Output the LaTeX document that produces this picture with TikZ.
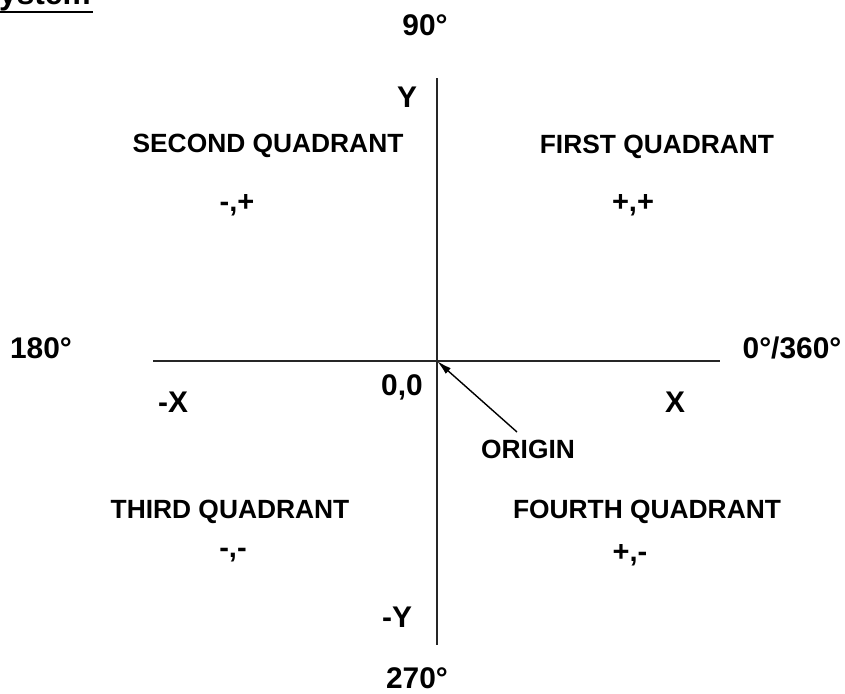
\documentclass[tikz,border=0pt]{standalone}
\usepackage{fontspec}
\setmainfont{Liberation Sans}
\usetikzlibrary{arrows.meta}

\begin{document}
\begin{tikzpicture}[
  x=0.02cm, y=-0.02cm,
  lbl/.style={font=\fontsize{15}{18}\selectfont\bfseries, inner sep=0pt},
  sgn/.style={font=\fontsize{16.5}{19}\selectfont\bfseries, inner sep=0pt},
  axlbl/.style={font=\fontsize{17}{20}\selectfont\bfseries, inner sep=0pt},
  deg/.style={font=\fontsize{17}{20}\selectfont\bfseries, inner sep=0pt},
  axis/.style={line width=0.6pt, black!85},
  pointer/.style={-{Latex[length=3mm, width=1.5mm]}, line width=0.8pt},
]
  \useasboundingbox (0,0) rectangle (845,693);

  % --- origin and axis ends ---
  \def\Ox{437} \def\Oy{361}
  \coordinate (o) at (\Ox,\Oy);
  \coordinate (ytop) at (\Ox,78);
  \coordinate (ybot) at (\Ox,645);
  \coordinate (xleft) at (153,\Oy);
  \coordinate (xright) at (720,\Oy);

  % --- title (cut off at the edge) ---
  \node[font=\fontsize{18}{21}\selectfont\bfseries, inner sep=0pt, anchor=base east]
    (title) at (91,5) {System};
  \draw[line width=1.1pt] (title.south west) -- ([xshift=1pt]title.south east);

  % --- axes ---
  \draw[axis] (ytop) -- (ybot);
  \draw[axis] (xleft) -- (xright);

  % --- angles ---
  \node[deg] (a90) at (425,25) {90°};
  \node[deg] (a180) at (41,348) {180°};
  \node[deg] (a0) at (792,348) {0°/360°};
  \node[deg] (a270) at (417,678) {270°};

  % --- axis letters ---
  \node[axlbl] (ly) at (407,97) {Y};
  \node[axlbl] (lmy) at (397,617) {-Y};
  \node[axlbl] (lx) at (675,402) {X};
  \node[axlbl] (lmx) at (173,402) {-X};
  \node[axlbl] (zero) at (402,387) {0,0};

  % --- quadrants ---
  \node[lbl] (q1) at (657,147) {FIRST QUADRANT};
  \node[sgn] (s1) at (633,205) {+,+};
  \node[lbl] (q2) at (268,146) {SECOND QUADRANT};
  \node[sgn] (s2) at (237,205) {-,+};
  \node[lbl] (q3) at (230,512) {THIRD QUADRANT};
  \node[sgn] (s3) at (233,555) {-,-};
  \node[lbl] (q4) at (647,512) {FOURTH QUADRANT};
  \node[sgn] (s4) at (630,555) {+,-};

  % --- origin pointer ---
  \node[lbl] (orig) at (528,449) {ORIGIN};
  \coordinate (tail) at (517,432);
  \draw[pointer] (tail) -- (o);
\end{tikzpicture}
\end{document}
